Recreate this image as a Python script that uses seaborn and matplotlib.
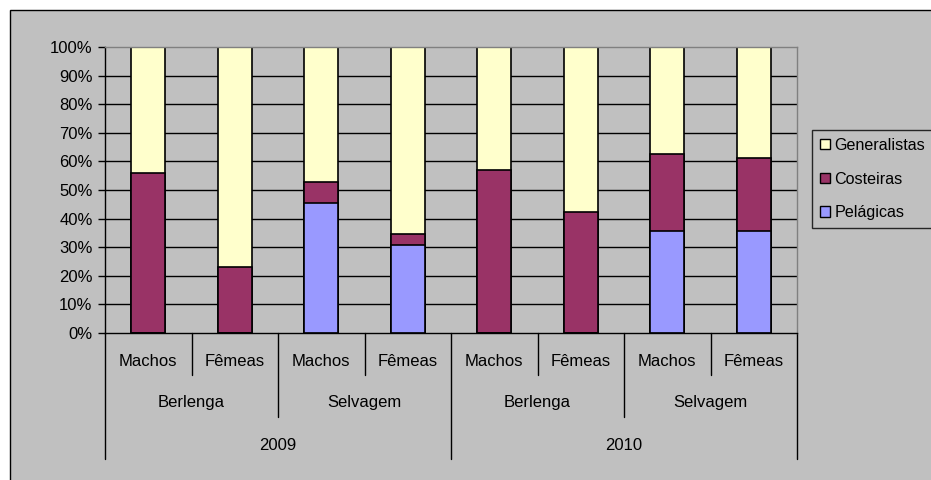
import matplotlib
matplotlib.use("Agg")
import matplotlib.pyplot as plt
from matplotlib.patches import Rectangle, Patch
from matplotlib.transforms import blended_transform_factory
import numpy as np
import pandas as pd
import seaborn as sns

# Category levels of the multi-level x axis
years = ["2009", "2010"]
sites = ["Berlenga", "Selvagem"]
sexes = ["Machos", "Fêmeas"]

# Share (%) of each prey type per group, in axis order
pelagicas = [0.0, 0.0, 45.6, 30.8, 0.0, 0.0, 35.8, 35.8]
costeiras = [55.8, 23.0, 7.1, 3.8, 57.1, 42.4, 26.8, 25.5]
generalistas = [44.2, 77.0, 47.3, 65.4, 42.9, 57.6, 37.4, 38.7]

series_names = ["Generalistas", "Costeiras", "Pelágicas"]
series_colors = {"Generalistas": "#FFFFCC", "Costeiras": "#993366", "Pelágicas": "#9999FF"}

sns.set_style("white")
plt.rcParams["font.family"] = ["Liberation Sans", "DejaVu Sans"]
plt.rcParams["text.color"] = "black"
plt.rcParams["ytick.color"] = "black"
plt.rcParams["ytick.labelcolor"] = "black"
FS = 12

W, H = 931, 480
fig = plt.figure(figsize=(W / 100, H / 100), dpi=100)
fig.patch.set_facecolor("white")

# Grey chart area with black border
chart_bg = Rectangle((9.5 / W, -0.01), 1, 1 - 9.5 / H + 0.01, transform=fig.transFigure,
                     facecolor="#C0C0C0", edgecolor="black", linewidth=1.0, zorder=-5)
fig.add_artist(chart_bg)

left, right, top, bottom = 105, 797, 47, 333
ax = fig.add_axes([left / W, 1 - bottom / H, (right - left) / W, (bottom - top) / H])
ax.set_facecolor("#C0C0C0")
ax.set_zorder(1)

# Build stacked percentages
labels = [f"{y} {s} {x}" for y in years for s in sites for x in sexes]
tot = np.array(pelagicas) + np.array(costeiras) + np.array(generalistas)
pel_pct = np.array(pelagicas) / tot * 100
cos_pct = np.array(costeiras) / tot * 100
gen_pct = np.array(generalistas) / tot * 100
df = pd.DataFrame({
    "grupo": labels,
    "Pelágicas": pel_pct,
    "Costeiras": pel_pct + cos_pct,
    "Generalistas": pel_pct + cos_pct + gen_pct,
})

# Horizontal gridlines behind bars
for v in range(10, 100, 10):
    ax.axhline(v, color="black", linewidth=1.0, zorder=0.5)

for name in series_names:
    sns.barplot(data=df, x="grupo", y=name, order=labels, color=series_colors[name],
                saturation=1, edgecolor="black", linewidth=1.2, width=0.39, ax=ax, zorder=2)

ax.set_xlim(-0.5, len(labels) - 0.5)
ax.set_ylim(0, 100)
ax.set_yticks(range(0, 101, 10))
ax.set_yticklabels([f"{v}%" for v in range(0, 101, 10)], fontsize=FS, color="black")
ax.tick_params(axis="y", length=5, width=1, color="black", pad=4, direction="out", left=True)
ax.set_xticks([])
ax.set_xlabel("")
ax.set_ylabel("")

for s in ["left", "bottom"]:
    ax.spines[s].set_color("black")
    ax.spines[s].set_linewidth(1.0)
for s in ["top", "right"]:
    ax.spines[s].set_color("#808080")
    ax.spines[s].set_linewidth(1.0)

# Multi-level category axis below the plot
tr = blended_transform_factory(ax.transData, ax.transAxes)
hpx = bottom - top


def ya(px):
    return -(px - bottom) / hpx


n = len(labels)
for b in range(n + 1):
    if b in (0, n, n // 2):
        end = 459
    elif b % 2 == 0:
        end = 417
    else:
        end = 375
    ax.plot([b - 0.5, b - 0.5], [0, ya(end)], transform=tr, color="black",
            linewidth=1.0, clip_on=False)

for i, lab in enumerate(labels):
    ax.text(i, ya(362), lab.split(" ")[2], transform=tr, ha="center", va="center",
            fontsize=FS, color="black")
for j in range(len(years) * len(sites)):
    ax.text(2 * j + 0.5, ya(403), sites[j % 2], transform=tr, ha="center", va="center",
            fontsize=FS, color="black")
for k, y in enumerate(years):
    ax.text(4 * k + 1.5, ya(445), y, transform=tr, ha="center", va="center",
            fontsize=FS, color="black")

# Legend
handles = [Patch(facecolor=series_colors[nm], edgecolor="black", linewidth=1.0) for nm in series_names]
leg = fig.legend(handles, series_names, loc="upper left", bbox_to_anchor=(812 / W, 1 - 130 / H),
                 bbox_transform=fig.transFigure, frameon=True, fontsize=11.6, borderaxespad=0,
                 handlelength=0.6, handleheight=0.6, handletextpad=0.3, labelspacing=1.15,
                 borderpad=0.5, fancybox=False)
leg.get_frame().set_facecolor("#C0C0C0")
leg.get_frame().set_edgecolor("black")
leg.get_frame().set_linewidth(1.0)
for t in leg.get_texts():
    t.set_color("black")

fig.savefig("out.png", dpi=100, facecolor=fig.get_facecolor())
